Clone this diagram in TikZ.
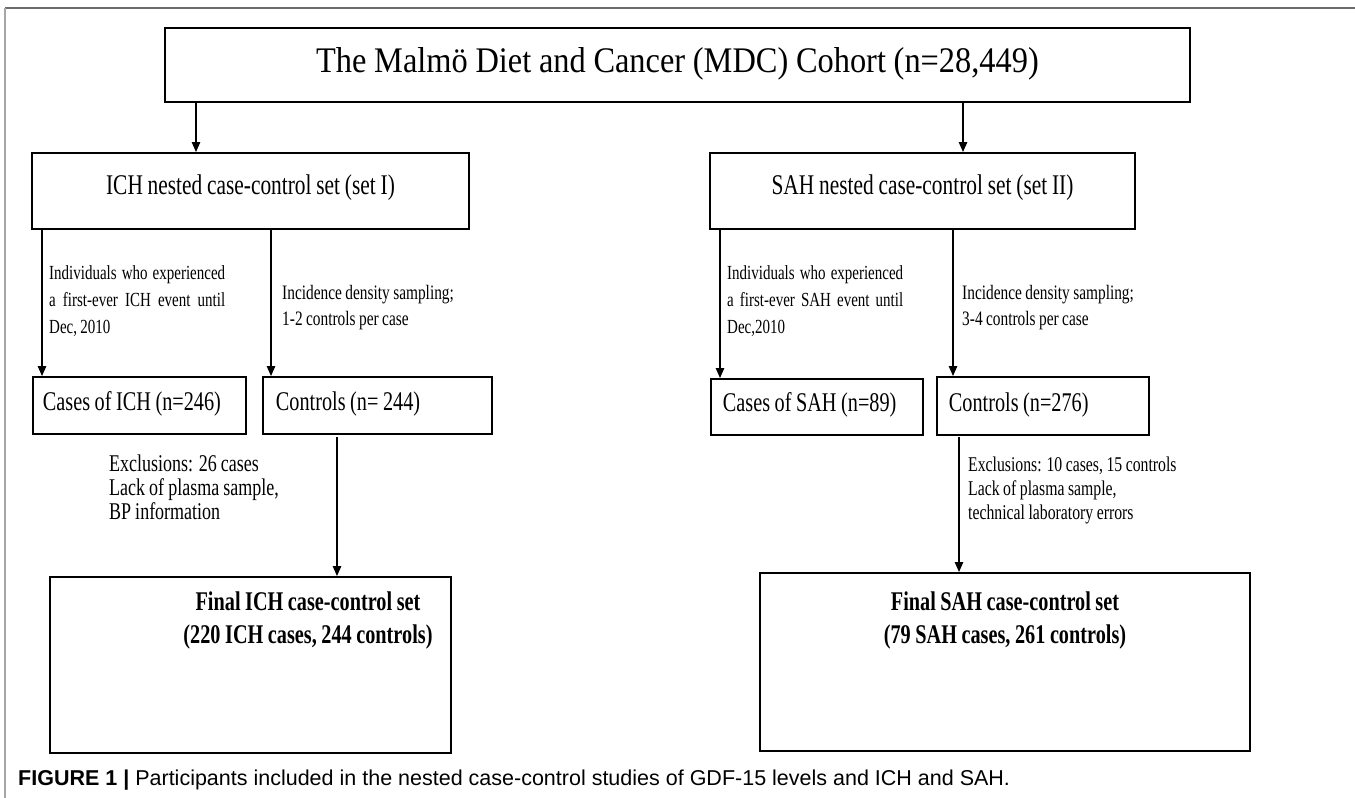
\documentclass[tikz,border=0pt]{standalone}
\usepackage{fontspec}
\setmainfont{Liberation Serif}[FakeStretch=0.75,WordSpace=0.9]
\newfontfamily\topfont{Liberation Serif}[FakeStretch=0.9,WordSpace=0.95]
\newfontfamily\capfont{Liberation Sans}
\usetikzlibrary{arrows.meta}
\begin{document}
\begin{tikzpicture}[x=1pt,y=-1pt,
  box/.style={draw, line width=1.8pt, rectangle, inner xsep=0pt, inner ysep=0pt},
  smallbox/.style={box, anchor=north west, font=\fontsize{27}{30}\selectfont},
  arr/.style={-{Triangle[length=10pt,width=8.5pt]}, line width=1.2pt},
  lbl/.style={inner sep=0pt, font=\fontsize{20}{27}\selectfont}
]
\useasboundingbox (0,0) rectangle (1355,798);
\draw[gray!85!black, line width=1.4pt] (5,8) -- (1355,8);
\draw[gray!70, line width=1.4pt] (5,798) -- (5,8);

% top
\node (mdc) [box, anchor=north, minimum width=1025pt, text height=45pt, text depth=29pt,
  font=\topfont\fontsize{36}{40}\selectfont] at (677.5,27) {The Malmö Diet and Cancer (MDC) Cohort (n=28,449)};

% set boxes
\node (ich) [box, anchor=north, minimum width=437pt, text height=42pt, text depth=34pt,
  font=\fontsize{28.5}{32}\selectfont] at (250.5,152) {ICH nested case-control set (set I)};
\node (sah) [box, anchor=north, minimum width=425pt, text height=42pt, text depth=34pt,
  font=\fontsize{28.5}{32}\selectfont] at (922.5,152) {SAH nested case-control set (set II)};

\coordinate (xa) at (196,0);
\coordinate (xb) at (963,0);
\draw[arr] (mdc.south -| xa) -- (ich.north -| xa);
\draw[arr] (mdc.south -| xb) -- (sah.north -| xb);

% case / control boxes
\node (cich) [smallbox, inner xsep=10pt, text height=34pt, text depth=23pt] at (32,376)
  {\makebox[193pt][l]{Cases of ICH (n=246)}};
\node (kich) [smallbox, inner xsep=13pt, text height=34pt, text depth=23pt] at (262,376)
  {\makebox[203pt][l]{Controls (n= 244)}};
\node (csah) [smallbox, inner xsep=12pt, text height=33pt, text depth=23pt] at (710,378)
  {\makebox[188pt][l]{Cases of SAH (n=89)}};
\node (ksah) [smallbox, inner xsep=12pt, text height=35pt, text depth=23pt] at (936,376)
  {\makebox[188pt][l]{Controls (n=276)}};

\coordinate (x1) at (42,0);
\coordinate (x2) at (271,0);
\coordinate (x3) at (720,0);
\coordinate (x4) at (953,0);
\draw[arr] (ich.south -| x1) -- (cich.north -| x1);
\draw[arr] (ich.south -| x2) -- (kich.north -| x2);
\draw[arr] (sah.south -| x3) -- (csah.north -| x3);
\draw[arr] (sah.south -| x4) -- (ksah.north -| x4);

% labels
\node (l1) [lbl, anchor=north west, align=left] at (49,265)
  {\makebox[176pt][s]{Individuals who experienced}\\\makebox[176pt][s]{a first-ever ICH event until}\\Dec, 2010};
\node (l2) [lbl, anchor=north west, align=left, font=\fontsize{20.5}{26}\selectfont] at (282,285)
  {Incidence density sampling;\\1-2 controls per case};
\node (l3) [lbl, anchor=north west, align=left] at (727,265)
  {\makebox[176pt][s]{Individuals who experienced}\\\makebox[176pt][s]{a first-ever SAH event until}\\Dec,2010};
\node (l4) [lbl, anchor=north west, align=left, font=\fontsize{20.5}{26}\selectfont] at (962,285)
  {Incidence density sampling;\\3-4 controls per case};

% final boxes
\node (fich) [box, anchor=north, minimum width=401pt, text height=34pt, text depth=142pt,
  font=\bfseries\fontsize{27}{33}\selectfont] at (250.5,576)
  {\begin{tabular}[t]{@{\hspace{115pt}}c@{}}Final ICH case-control set\\(220 ICH cases, 244 controls)\end{tabular}};
\node (fsah) [box, anchor=north, minimum width=490pt, text height=38pt, text depth=140pt,
  font=\bfseries\fontsize{27}{33}\selectfont] at (1005,572)
  {\begin{tabular}[t]{@{}c@{}}Final SAH case-control set\\(79 SAH cases, 261 controls)\end{tabular}};

\coordinate (e1) at (337,437);
\coordinate (e2) at (959,437);
\draw[arr] (e1) -- (fich.north -| e1);
\draw[arr] (e2) -- (fsah.north -| e2);

\node (l5) [lbl, anchor=north west, align=left, font=\fontsize{24}{24}\selectfont] at (109,455)
  {Exclusions: 26 cases\\Lack of plasma sample,\\BP information};
\node (l6) [lbl, anchor=north west, align=left, font=\fontsize{21}{24}\selectfont] at (968,457)
  {Exclusions: 10 cases, 15 controls\\Lack of plasma sample,\\technical laboratory errors};

% caption
\node (cap) [anchor=base west, inner sep=0pt, font=\capfont\fontsize{21.5}{24}\selectfont] at (18,785)
  {\textbf{FIGURE 1 |} Participants included in the nested case-control studies of GDF-15 levels and ICH and SAH.};
\end{tikzpicture}
\end{document}
